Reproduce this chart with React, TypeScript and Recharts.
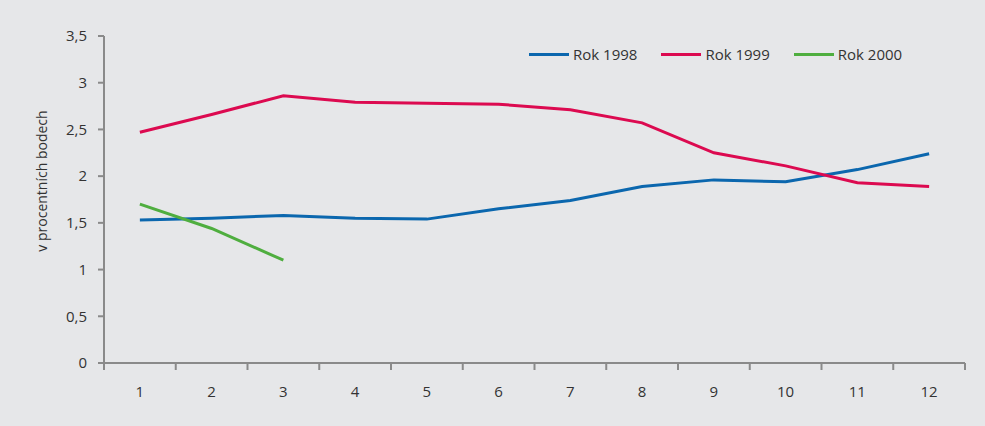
import { LineChart, Line, XAxis, YAxis } from "recharts";

const months = [1, 2, 3, 4, 5, 6, 7, 8, 9, 10, 11, 12];
const rok1998 = [1.53, 1.55, 1.58, 1.55, 1.54, 1.65, 1.74, 1.89, 1.96, 1.94, 2.07, 2.24];
const rok1999 = [2.47, 2.66, 2.86, 2.79, 2.78, 2.77, 2.71, 2.57, 2.25, 2.11, 1.93, 1.89];
const rok2000 = [1.7, 1.44, 1.1];
const yTicks = [0, 0.5, 1, 1.5, 2, 2.5, 3, 3.5];
const Y_LABEL = "v procentních bodech";

const series = [
  { key: "r1998", name: "Rok 1998", color: "#0b67ae", values: rok1998 },
  { key: "r1999", name: "Rok 1999", color: "#dc0a50", values: rok1999 },
  { key: "r2000", name: "Rok 2000", color: "#4fae3f", values: rok2000 },
];

const data = months.map((m, i) => {
  const row: Record<string, number | undefined> = { month: m };
  series.forEach((s) => {
    row[s.key] = s.values[i];
  });
  return row;
});

// labels sit at integer months, tick marks at the band edges
const xTicks = [...months.map((m) => m - 0.5), months[months.length - 1] + 0.5, ...months];

const AXIS = "#8a8a8a";
const TEXT = "#333333";
const FONT = "'Open Sans', sans-serif";

const MonthTick = (props: any) => {
  const { x, y, payload } = props;
  const v = payload.value as number;
  if (Number.isInteger(v)) {
    return (
      <text x={x} y={y + 34} textAnchor="middle" fill={TEXT} fontSize={15} fontFamily={FONT}>
        {v}
      </text>
    );
  }
  return <line x1={x} x2={x} y1={y} y2={y + 7} stroke={AXIS} strokeWidth={2} />;
};

export default function App() {
  return (
    <div
      style={{
        position: "absolute",
        left: 0,
        top: 0,
        width: 985,
        height: 426,
        background: "#e6e7e9",
        fontFamily: FONT,
      }}
    >
      <LineChart width={985} height={426} data={data} margin={{ top: 36, right: 20, bottom: 0, left: 0 }}>
        <XAxis
          dataKey="month"
          type="number"
          domain={[0.5, 12.5]}
          ticks={xTicks}
          interval={0}
          height={63}
          tickSize={0}
          tickMargin={0}
          tickLine={false}
          tick={<MonthTick />}
          axisLine={{ stroke: AXIS, strokeWidth: 2 }}
        />
        <YAxis
          width={104}
          domain={[0, 3.5]}
          ticks={yTicks}
          interval={0}
          tickSize={6}
          tickMargin={11}
          tickFormatter={(v: number) => String(v).replace(".", ",")}
          tick={{ fill: TEXT, fontSize: 15, fontFamily: FONT }}
          tickLine={{ stroke: AXIS, strokeWidth: 2 }}
          axisLine={{ stroke: AXIS, strokeWidth: 2 }}
          label={() => (
            <text
              transform="translate(47,181) rotate(-90)"
              textAnchor="middle"
              fill={TEXT}
              fontSize={14}
              fontFamily={FONT}
            >
              {Y_LABEL}
            </text>
          )}
        />
        {series.map((s) => (
          <Line
            key={s.key}
            dataKey={s.key}
            name={s.name}
            stroke={s.color}
            strokeWidth={3}
            dot={false}
            activeDot={false}
            isAnimationActive={false}
          />
        ))}
      </LineChart>
      <div
        style={{
          position: "absolute",
          left: 529,
          top: 44,
          display: "flex",
          gap: 24,
          fontSize: 15,
          color: TEXT,
          lineHeight: "20px",
        }}
      >
        {series.map((s) => (
          <div key={s.key} style={{ display: "flex", alignItems: "center" }}>
            <div style={{ width: 40, height: 3, background: s.color, marginRight: 4 }} />
            <span>{s.name}</span>
          </div>
        ))}
      </div>
    </div>
  );
}
